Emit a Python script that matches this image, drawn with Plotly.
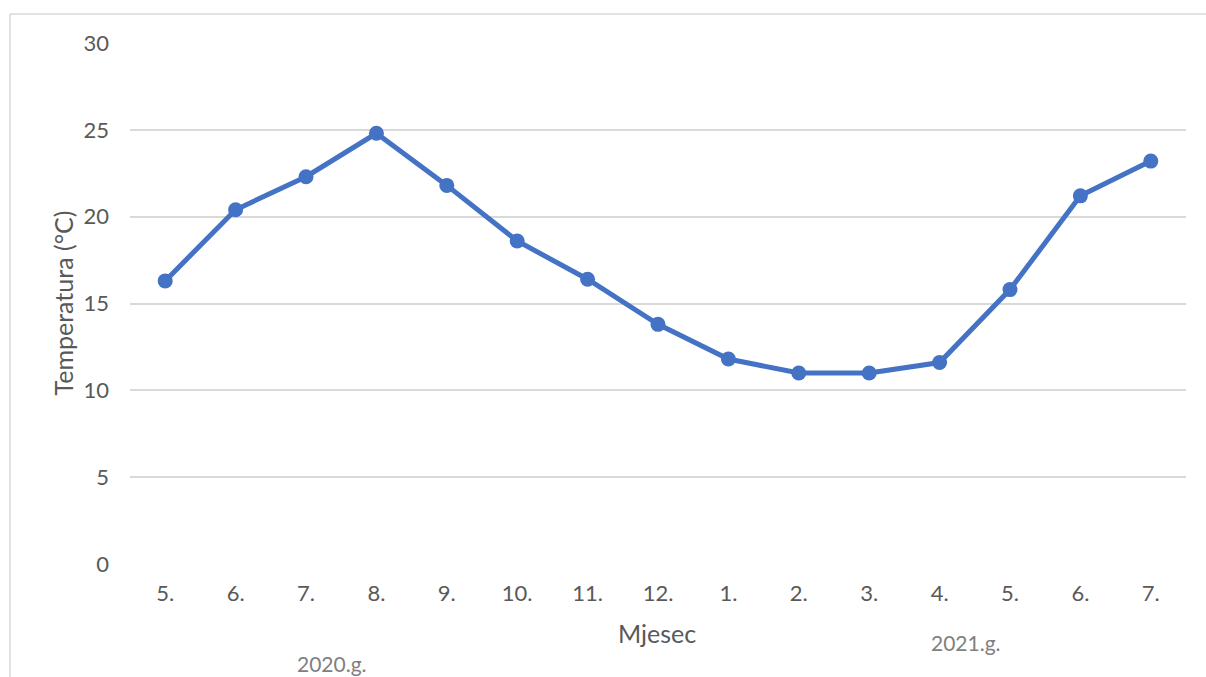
import plotly.graph_objects as go

months = ["5.", "6.", "7.", "8.", "9.", "10.", "11.", "12.", "1.", "2.", "3.", "4.", "5.", "6.", "7."]
temperature = [16.3, 20.4, 22.3, 24.8, 21.8, 18.6, 16.4, 13.8, 11.8, 11.0, 11.0, 11.6, 15.8, 21.2, 23.2]
y_ticks = [0, 5, 10, 15, 20, 25, 30]

x_idx = list(range(len(months)))

FONT = "Lato"
TXT = "#595959"

fig = go.Figure()
fig.add_trace(go.Scatter(
    x=x_idx, y=temperature, mode="lines+markers",
    line=dict(color="#4472C4", width=5),
    marker=dict(color="#4472C4", size=15),
    hoverinfo="y",
))

W, H = 1206, 677
L, R, T, B = 130, 20, 43, 113
pw, ph = W - L - R, H - T - B

def px(x):
    return (x - L) / pw

def py(y):
    return (H - B - y) / ph

fig.update_layout(
    width=W, height=H,
    margin=dict(l=L, r=R, t=T, b=B),
    paper_bgcolor="white", plot_bgcolor="white",
    showlegend=False,
    font=dict(family=FONT, color=TXT, size=22),
    xaxis=dict(
        tickmode="array", tickvals=x_idx, ticktext=months,
        range=[-0.5, len(months) - 0.5],
        showgrid=False, zeroline=False, showline=False,
        ticks="", ticklabelstandoff=14,
        tickfont=dict(family=FONT, size=22, color=TXT),
        fixedrange=True,
    ),
    yaxis=dict(
        tickmode="array", tickvals=y_ticks,
        range=[0, 30],
        showgrid=True, gridcolor="#D9D9D9", gridwidth=1.5,
        zeroline=False, showline=False,
        ticks="", ticklabelstandoff=20,
        tickfont=dict(family=FONT, size=22, color=TXT),
        fixedrange=True,
    ),
    annotations=[
        dict(text="Temperatura (°C)", x=px(62), y=0.5, xref="paper", yref="paper",
             showarrow=False, textangle=-90, xanchor="center", yanchor="middle",
             font=dict(family=FONT, size=25, color=TXT)),
        dict(text="Mjesec", x=px(657), y=py(633), xref="paper", yref="paper",
             showarrow=False, xanchor="center", yanchor="middle",
             font=dict(family=FONT, size=25, color=TXT)),
        dict(text="2020.g.", x=px(332), y=py(663), xref="paper", yref="paper",
             showarrow=False, xanchor="center", yanchor="middle",
             font=dict(family=FONT, size=21, color="#808080")),
        dict(text="2021.g.", x=px(966), y=py(642), xref="paper", yref="paper",
             showarrow=False, xanchor="center", yanchor="middle",
             font=dict(family=FONT, size=21, color="#808080")),
    ],
    shapes=[
        dict(type="line", xref="paper", yref="paper", x0=px(10), x1=px(10), y0=py(14), y1=py(700),
             line=dict(color="#D9D9D9", width=1.5)),
        dict(type="line", xref="paper", yref="paper", x0=px(10), x1=px(1220), y0=py(14), y1=py(14),
             line=dict(color="#D9D9D9", width=1.5)),
    ],
)

fig.write_html("out.html", config={"displayModeBar": False},
               post_script="document.body.style.margin='0';document.body.style.overflow='hidden';")
